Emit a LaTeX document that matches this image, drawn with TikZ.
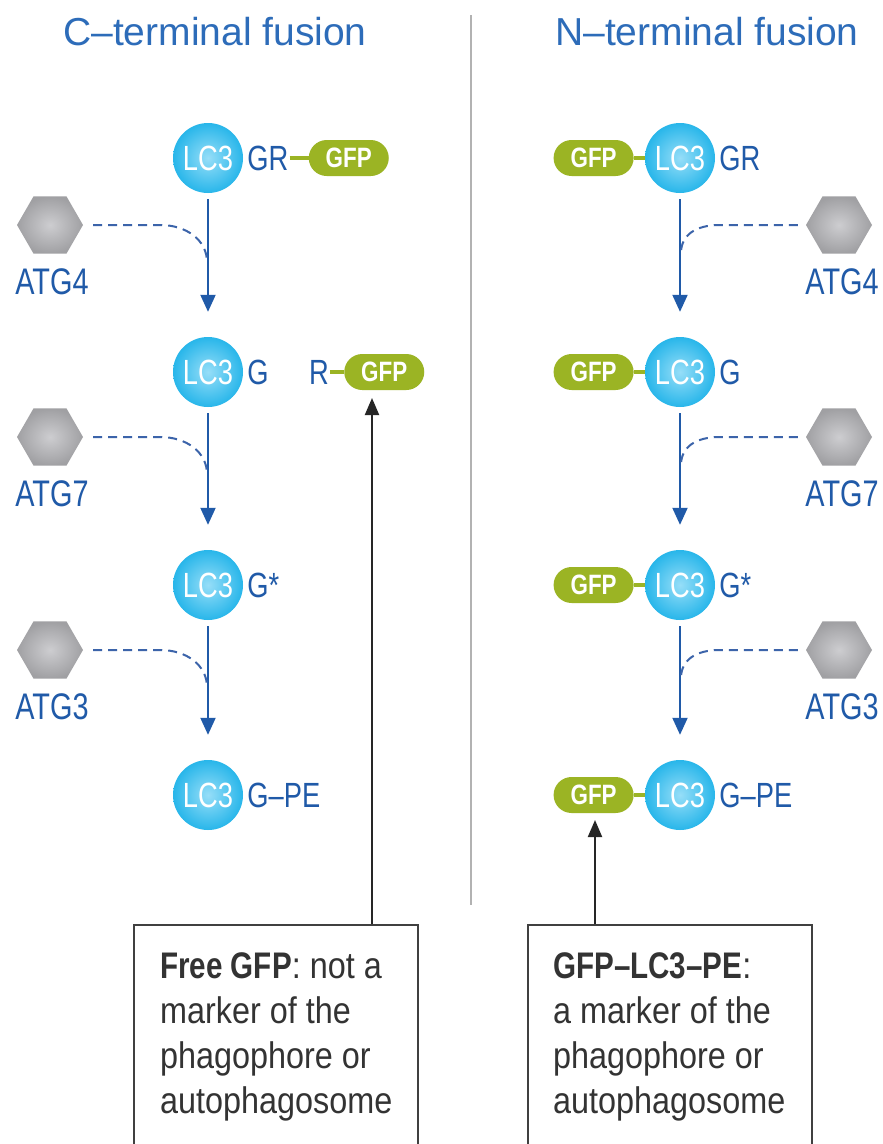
\documentclass[tikz,border=0pt]{standalone}
\usepackage{fontspec}
\setmainfont{Liberation Sans}
\newfontfamily\condfont[FakeStretch=0.78]{Liberation Sans}
\newfontfamily\pillfont[FakeStretch=0.8]{Liberation Sans Bold}
\newfontfamily\notefont[FakeStretch=0.875,BoldFeatures={FakeStretch=0.8}]{Liberation Sans}
\usepackage{tikz}
\usetikzlibrary{shapes.geometric, shapes.misc, arrows.meta, positioning}
\definecolor{txtblue}{RGB}{32, 90, 168}
\definecolor{ttlblue}{RGB}{45, 108, 185}
\definecolor{dashblue}{RGB}{60, 100, 170}
\definecolor{lcblue}{RGB}{40, 182, 234}
\definecolor{lclight}{RGB}{150, 222, 248}
\definecolor{gfpgreen}{RGB}{155, 180, 36}
\definecolor{hexgray}{RGB}{160, 160, 163}
\definecolor{hexlight}{RGB}{205, 205, 208}

\begin{document}
\begin{tikzpicture}[x=1pt, y=-1pt,
    lc3/.style={circle, minimum size=70pt, inner sep=0pt, shading=radial,
      inner color=lclight, outer color=lcblue, text=white,
      font=\condfont\fontsize{35}{40}\selectfont},
    gfp/.style={rounded rectangle, minimum width=80pt, minimum height=36pt,
      inner sep=0pt, fill=gfpgreen, text=white,
      font=\pillfont\fontsize{28}{30}\selectfont},
    hexa/.style={regular polygon, regular polygon sides=6, minimum size=66pt,
      inner sep=0pt, shading=radial, inner color=hexlight, outer color=hexgray},
    lbl/.style={inner sep=1pt, text=txtblue, font=\condfont\fontsize{35}{40}\selectfont},
    atg/.style={inner sep=0pt, text=txtblue, font=\condfont\fontsize{37}{40}\selectfont},
    link/.style={gfpgreen, line width=3.5pt},
    blarrow/.style={txtblue, line width=2pt, -{Triangle[width=15pt,length=17pt]}},
    blkarrow/.style={black!85, line width=2pt, -{Triangle[width=14pt,length=17pt]}},
    enz/.style={dashblue, line width=2pt, dash pattern=on 9pt off 6pt},
    note/.style={draw=black!75, line width=2pt, minimum width=284pt,
      minimum height=240pt, anchor=north west},
    notetext/.style={anchor=north west, inner sep=0pt, align=left, text=black!80,
      font=\notefont\fontsize{37}{45}\selectfont},
    title/.style={text=ttlblue, font=\fontsize{39}{44}\selectfont}]
    \useasboundingbox (0,0) rectangle (883,1144);
    \clip (0,0) rectangle (883,1144);
    \fill[white] (0,0) rectangle (883,1144);
    % titles and divider
    \node[title] (ttlC) at (215,32) {C–terminal fusion};
    \node[title] (ttlN) at (707,32) {N–terminal fusion};
    \draw[black!30, line width=1.5pt] (471,15) -- (471,905);
    % C-terminal column
    \node[lc3] (lcA1) at (208,158) {LC3};
    \node[lc3] (lcA2) at (208,372) {LC3};
    \node[lc3] (lcA3) at (208,585) {LC3};
    \node[lc3] (lcA4) at (208,795) {LC3};
    \node[lbl, right=3pt of lcA1] (grA1) {GR};
    \node[lbl, right=3pt of lcA2] (grA2) {G};
    \node[lbl, right=3pt of lcA3] (grA3) {G*};
    \node[lbl, right=3pt of lcA4] (grA4) {G–PE};
    \node[gfp, right=19pt of grA1] (gfpA1) {GFP};
    \draw[link] (grA1) -- (gfpA1);
    \node[lbl] (rA) at (319,372) {R};
    \node[gfp, right=14pt of rA] (gfpA2) {GFP};
    \draw[link] (rA) -- (gfpA2);
    \foreach \a/\b in {1/2,2/3,3/4}
      \draw[blarrow] ([yshift=-6pt]lcA\a.south) -- ([yshift=25pt]lcA\b.north);
    % enzymes, left
    \foreach \y/\lbl/\n in {225/ATG4/1,437/ATG7/2,650/ATG3/3} {
      \node[hexa] (hxA\n) at (50,\y) {};
      \node[atg] (atgA\n) at (52,\y+57) {\lbl};
      \coordinate (jA\n) at (207,\y+37);
      \draw[enz] ([xshift=10pt]hxA\n.east) -- ++(67,0)
        .. controls +(26,0) and +(0,-22) .. (jA\n);
    }
    % N-terminal column
    \node[lc3] (lcB1) at (680,158) {LC3};
    \node[lc3] (lcB2) at (680,372) {LC3};
    \node[lc3] (lcB3) at (680,585) {LC3};
    \node[lc3] (lcB4) at (680,795) {LC3};
    \node[lbl, right=3pt of lcB1] (grB1) {GR};
    \node[lbl, right=3pt of lcB2] (grB2) {G};
    \node[lbl, right=3pt of lcB3] (grB3) {G*};
    \node[lbl, right=3pt of lcB4] (grB4) {G–PE};
    \foreach \n in {1,...,4} {
      \node[gfp, left=11pt of lcB\n] (gfpB\n) {GFP};
      \draw[link] (gfpB\n.east) -- (lcB\n.west);
    }
    \foreach \a/\b in {1/2,2/3,3/4}
      \draw[blarrow] ([yshift=-6pt]lcB\a.south) -- ([yshift=25pt]lcB\b.north);
    % enzymes, right
    \foreach \y/\lbl/\n in {225/ATG4/1,437/ATG7/2,650/ATG3/3} {
      \node[hexa] (hxB\n) at (839,\y) {};
      \node[atg] (atgB\n) at (842,\y+57) {\lbl};
      \coordinate (jB\n) at (681,\y+28);
      \draw[enz] ([xshift=-8pt]hxB\n.west) -- ++(-78,0)
        .. controls +(-24,0) and +(0,-18) .. (jB\n);
    }
    % notes
    \node[note] (boxL) at (133,924) {};
    \node[note] (boxR) at (527,924) {};
    \node[notetext] (txtL) at (160,952)
      {\textbf{Free GFP}: not a\\marker of the\\phagophore or\\autophagosome};
    \node[notetext] (txtR) at (553,952)
      {\textbf{GFP–LC3–PE}:\\a marker of the\\phagophore or\\autophagosome};
    \coordinate (tipL) at (372,398);
    \coordinate (tipR) at (595,820);
    \draw[blkarrow] (boxL.north -| tipL) -- (tipL);
    \draw[blkarrow] (boxR.north -| tipR) -- (tipR);
\end{tikzpicture}
\end{document}
